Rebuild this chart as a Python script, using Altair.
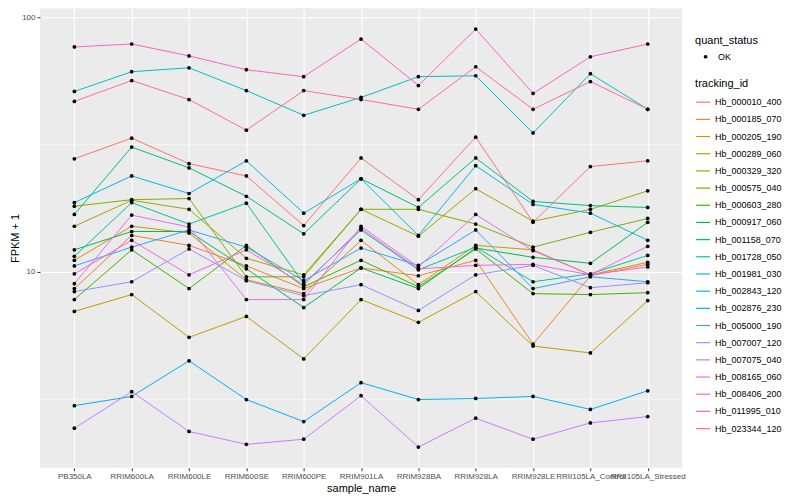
import altair as alt
import pandas as pd

samples = ["PB350LA", "RRIM600LA", "RRIM600LE", "RRIM600SE", "RRIM600PE", "RRIM901LA",
           "RRIM928BA", "RRIM928LA", "RRIM928LE", "RRII105LA_Control", "RRII105LA_Stressed"]

tracking_ids = ["Hb_000010_400", "Hb_000185_070", "Hb_000205_190", "Hb_000289_060",
                "Hb_000329_320", "Hb_000575_040", "Hb_000603_280", "Hb_000917_060",
                "Hb_001158_070", "Hb_001728_050", "Hb_001981_030", "Hb_002843_120",
                "Hb_002876_230", "Hb_005000_190", "Hb_007007_120", "Hb_007075_040",
                "Hb_008165_060", "Hb_008406_200", "Hb_011995_010", "Hb_023344_120"]

palette = ["#F8766D", "#EA8331", "#D89000", "#C09B00", "#A3A500", "#7CAE00", "#39B600",
           "#00BB4E", "#00BF7D", "#00C1A3", "#00BFC4", "#00BAE0", "#00B0F6", "#35A2FF",
           "#9590FF", "#C77CFF", "#E76BF3", "#FA62DB", "#FF62BC", "#FF6C91"]

# FPKM + 1 per sample (in the order of `samples`)
hb_000010_400 = [27.8, 33.5, 26.6, 23.8, 15.2, 28.0, 19.2, 33.8, 15.65, 25.9, 27.3]
hb_000185_070 = [8.59, 13.9, 12.7, 10.55, 8.59, 10.36, 9.65, 11.1, 5.20, 9.65, 10.7]
hb_000205_190 = [11.1, 15.1, 14.2, 9.31, 8.21, 13.3, 8.90, 12.7, 12.2, 9.73, 10.9]
hb_000289_060 = [6.99, 8.14, 5.53, 6.68, 4.55, 7.78, 6.33, 8.36, 5.11, 4.80, 7.71]
hb_000329_320 = [15.1, 19.1, 17.6, 11.3, 9.73, 17.6, 13.8, 21.2, 15.8, 17.6, 20.8]
hb_000575_040 = [18.1, 19.2, 19.4, 9.56, 9.56, 17.6, 17.6, 15.4, 12.5, 14.3, 16.2]
hb_000603_280 = [7.78, 12.2, 8.59, 12.7, 8.74, 11.1, 8.74, 12.3, 8.21, 8.14, 8.28]
hb_000917_060 = [12.2, 14.4, 14.4, 10.27, 7.24, 10.36, 8.59, 12.4, 11.4, 10.8, 15.65]
hb_001158_070 = [16.8, 30.9, 25.6, 19.8, 14.1, 23.2, 17.9, 28.0, 18.9, 18.2, 17.9]
hb_001728_050 = [11.5, 18.7, 15.4, 18.6, 8.98, 14.6, 10.18, 12.5, 9.14, 9.82, 11.6]
hb_001981_030 = [51.1, 61.1, 63.3, 51.5, 41.2, 48.4, 58.4, 58.9, 35.1, 60.0, 43.5]
hb_002843_120 = [18.7, 23.8, 20.3, 27.3, 17.0, 23.2, 13.9, 26.1, 18.4, 17.0, 13.3]
hb_002876_230 = [2.98, 3.24, 4.47, 3.15, 2.58, 3.67, 3.15, 3.18, 3.24, 2.88, 3.41]
hb_005000_190 = [10.55, 12.5, 14.6, 12.5, 9.23, 12.4, 10.6, 14.6, 8.59, 9.56, 9.14]
hb_007007_120 = [8.36, 9.14, 12.3, 9.23, 8.06, 8.90, 7.05, 9.73, 10.6, 8.66, 9.06]
hb_007075_040 = [2.43, 3.38, 2.36, 2.10, 2.20, 3.26, 2.05, 2.66, 2.20, 2.55, 2.70]
hb_008165_060 = [8.98, 16.7, 15.0, 7.78, 7.78, 15.1, 10.45, 16.8, 12.1, 9.73, 12.6]
hb_008406_200 = [9.82, 13.3, 9.73, 12.2, 8.90, 14.8, 10.27, 10.6, 10.7, 9.73, 10.45]
hb_011995_010 = [76.4, 78.5, 70.5, 62.2, 58.4, 82.1, 53.9, 89.8, 50.2, 69.9, 78.5]
hb_023344_120 = [46.7, 56.4, 47.5, 36.0, 51.5, 47.5, 43.5, 63.9, 43.5, 55.9, 43.5]

series = [hb_000010_400, hb_000185_070, hb_000205_190, hb_000289_060, hb_000329_320,
          hb_000575_040, hb_000603_280, hb_000917_060, hb_001158_070, hb_001728_050,
          hb_001981_030, hb_002843_120, hb_002876_230, hb_005000_190, hb_007007_120,
          hb_007075_040, hb_008165_060, hb_008406_200, hb_011995_010, hb_023344_120]

rows = []
for tid, vals in zip(tracking_ids, series):
    for i, (s, v) in enumerate(zip(samples, vals)):
        rows.append({"tracking_id": tid, "sample_name": s, "idx": i,
                     "fpkm1": v, "quant_status": "OK"})
df = pd.DataFrame(rows)

FONT = "Liberation Sans"
MAJOR = "datum.value == 10 || datum.value == 100"

x_enc = alt.X("sample_name:N", sort=samples,
              scale=alt.Scale(type="point", padding=0.6),
              axis=alt.Axis(title="sample_name", labelAngle=0, labelFontSize=8,
                            labelColor="#4D4D4D", tickColor="#333333", tickSize=3,
                            domain=False, grid=True, gridColor="white", gridWidth=1.1,
                            titleFontSize=11, titleFontWeight="normal", titleColor="black",
                            labelPadding=2, titlePadding=2, labelOverlap=False,
                            labelFont=FONT, titleFont=FONT))

y_enc = alt.Y("fpkm1:Q",
              scale=alt.Scale(type="log", domain=[1.70, 108.4], nice=False, zero=False),
              axis=alt.Axis(title="FPKM + 1", values=[3.1623, 10, 31.623, 100],
                            labelExpr="(" + MAJOR + ") ? format(datum.value, 'd') : ''",
                            labelFontSize=8, labelColor="#4D4D4D",
                            tickColor={"condition": {"test": MAJOR, "value": "#333333"}, "value": "rgba(0,0,0,0)"},
                            tickSize=3, domain=False, grid=True, gridColor="white",
                            gridWidth={"condition": {"test": MAJOR, "value": 1.1}, "value": 0.55},
                            titleFontSize=11, titleFontWeight="normal", titleColor="black",
                            labelPadding=2, titlePadding=1, labelFont=FONT, titleFont=FONT))

lines = alt.Chart(df).mark_line(strokeWidth=1).encode(
    x=x_enc,
    y=y_enc,
    color=alt.Color("tracking_id:N", scale=alt.Scale(domain=tracking_ids, range=palette),
                    legend=alt.Legend(title="tracking_id", orient="none", legendX=656, legendY=70,
                                      symbolType="stroke", symbolSize=196, symbolStrokeWidth=1.2,
                                      labelFontSize=9, titleFontSize=11, titleFontWeight="normal",
                                      labelColor="black", titleColor="black", rowPadding=4.2,
                                      titlePadding=5, labelOffset=4, labelFont=FONT, titleFont=FONT)),
    order=alt.Order("idx:Q"),
    detail="tracking_id:N",
)

points = alt.Chart(df).mark_point(filled=True, size=14, opacity=1, color="black").encode(
    x=alt.X("sample_name:N", sort=samples),
    y=alt.Y("fpkm1:Q"),
    shape=alt.Shape("quant_status:N", scale=alt.Scale(range=["circle"]),
                    legend=alt.Legend(title="quant_status", orient="none", legendX=656, legendY=27,
                                      symbolFillColor="black", symbolStrokeColor="black",
                                      symbolSize=14, symbolOffset=6,
                                      labelFontSize=9, titleFontSize=11, titleFontWeight="normal",
                                      labelColor="black", titleColor="black",
                                      titlePadding=6, labelOffset=8, labelFont=FONT, titleFont=FONT)),
)

chart = alt.layer(lines, points).properties(
    width=643, height=460,
    autosize=alt.AutoSizeParams(type="none"),
    padding={"left": 32, "top": 0, "right": 110, "bottom": 30},
    background="white",
).configure(font=FONT).configure_view(fill="#EBEBEB", strokeWidth=0)

chart.save("out.html", embed_options={"renderer": "svg", "actions": False})
